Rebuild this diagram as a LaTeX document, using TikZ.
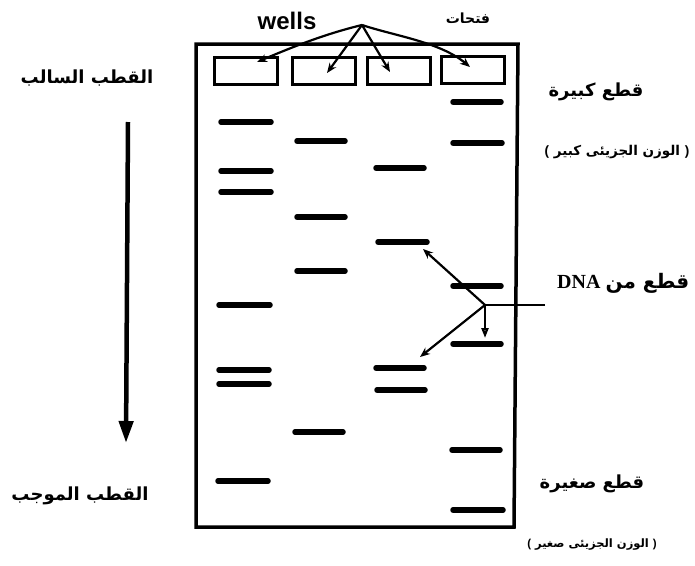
\documentclass[tikz,border=0pt]{standalone}
\usepackage{fontspec}
\setmainfont{Liberation Sans}
\newfontfamily\serifbold{Liberation Serif}
\newfontfamily\arabicfont[Script=Arabic]{DejaVu Sans}
\TeXXeTstate=1
\usetikzlibrary{arrows.meta}
\newcommand{\lpar}{{\normalfont\bfseries(}}
\newcommand{\rpar}{{\normalfont\bfseries)}}
\begin{document}
\begin{tikzpicture}[x=1pt,y=-1pt,
  gel/.style={line width=3.5pt},
  well/.style={draw,line width=3pt,minimum width=63pt,minimum height=27pt,inner sep=0pt},
  band/.style={line width=5.5pt,line cap=round},
  pointer/.style={line width=2.2pt,-{Stealth[length=10pt,width=8pt]}},
  polearrow/.style={line width=4.5pt,-{Triangle[length=22pt,width=14pt]}},
  artitle/.style={font=\arabicfont\bfseries\fontsize{18}{20}\selectfont,inner sep=0pt},
  arsmall/.style={font=\arabicfont\bfseries\fontsize{13.5}{15}\selectfont,inner sep=0pt}]
\useasboundingbox (0,0) rectangle (695,565);
\fill[white] (0,0) rectangle (695,565);

% gel frame
\draw[gel] (196,44) -- (518,44) -- (514,527) -- (196,527) -- cycle;

% wells
\node[well] (w1) at (246,71) {};
\node[well] (w2) at (324,71) {};
\node[well] (w3) at (399,71) {};
\node[well] (w4) at (473,70) {};

% labels of the wells
\node[font=\bfseries\fontsize{24}{26}\selectfont,inner sep=0pt] (wells) at (287,21) {wells};
\node[arsmall,font=\arabicfont\bfseries\fontsize{14}{16}\selectfont] (fat) at (468,18) {\beginR فتحات\endR};

\coordinate (apex) at (362,25);
\coordinate (t1) at (257,62);
\coordinate (t2) at (327,73);
\coordinate (t3) at (390,72);
\coordinate (t4) at (470,67);
\draw[pointer] (apex) .. controls (325,34) and (295,46) .. (t1);
\draw[pointer] (apex) -- (t2);
\draw[pointer] (apex) -- (t3);
\draw[pointer] (apex) .. controls (395,36) and (440,42) .. (t4);

% lane 1
\draw[band] (221,122) -- (271,122);
\draw[band] (221,171) -- (271,171);
\draw[band] (221,192) -- (271,192);
\draw[band] (219,305) -- (270,305);
\draw[band] (219,370) -- (269,370);
\draw[band] (219,384) -- (269,384);
\draw[band] (218,481) -- (268,481);
% lane 2
\draw[band] (297,141) -- (345,141);
\draw[band] (297,217) -- (345,217);
\draw[band] (297,271) -- (345,271);
\draw[band] (295,432) -- (343,432);
% lane 3
\draw[band] (376,168) -- (424,168);
\draw[band] (378,242) -- (427,242);
\draw[band] (376,368) -- (424,368);
\draw[band] (377,390) -- (425,390);
% lane 4
\draw[band] (453,102) -- (501,102);
\draw[band] (453,143) -- (502,143);
\draw[band] (453,286) -- (501,286);
\draw[band] (453,344) -- (501,344);
\draw[band] (452,450) -- (500,450);
\draw[band] (453,510) -- (503,510);

% pointers to DNA fragments
\coordinate (jn) at (485,305);
\coordinate (tail) at (545,305);
\coordinate (d1) at (423,249);
\coordinate (d2) at (485,338);
\coordinate (d3) at (420,357);
\draw[line width=2pt] (tail) -- (jn);
\draw[pointer] (jn) -- (d1);
\draw[pointer,-{Triangle[open,length=10pt,width=7pt]}] (jn) -- (d2);
\draw[pointer] (jn) -- (d3);
\node[anchor=west,inner sep=0pt] (dna) at (557,283)
  {\serifbold\bfseries\fontsize{20}{22}\selectfont DNA\ \arabicfont\fontsize{20}{22}\selectfont\beginR قطع من\endR};

% migration direction
\node[artitle] (neg) at (87,78) {\beginR القطب السالب\endR};
\node[artitle] (pos) at (80,496) {\beginR القطب الموجب\endR};
\coordinate (top) at (128,122);
\coordinate (bot) at (126,443);
\draw[polearrow] (top) -- (bot);

% fragment sizes
\node[artitle] (big) at (596,92) {\beginR قطع كبيرة\endR};
\node[arsmall] (bigw) at (617,152) {\lpar\ \beginR الوزن الجزيئى كبير\endR\ \rpar};
\node[artitle] (small) at (592,484) {\beginR قطع صغيرة\endR};
\node[arsmall,font=\arabicfont\bfseries\fontsize{11.5}{13}\selectfont] (smallw) at (592,545) {\lpar\ \beginR الوزن الجزيئى صغير\endR\ \rpar};
\end{tikzpicture}
\end{document}
